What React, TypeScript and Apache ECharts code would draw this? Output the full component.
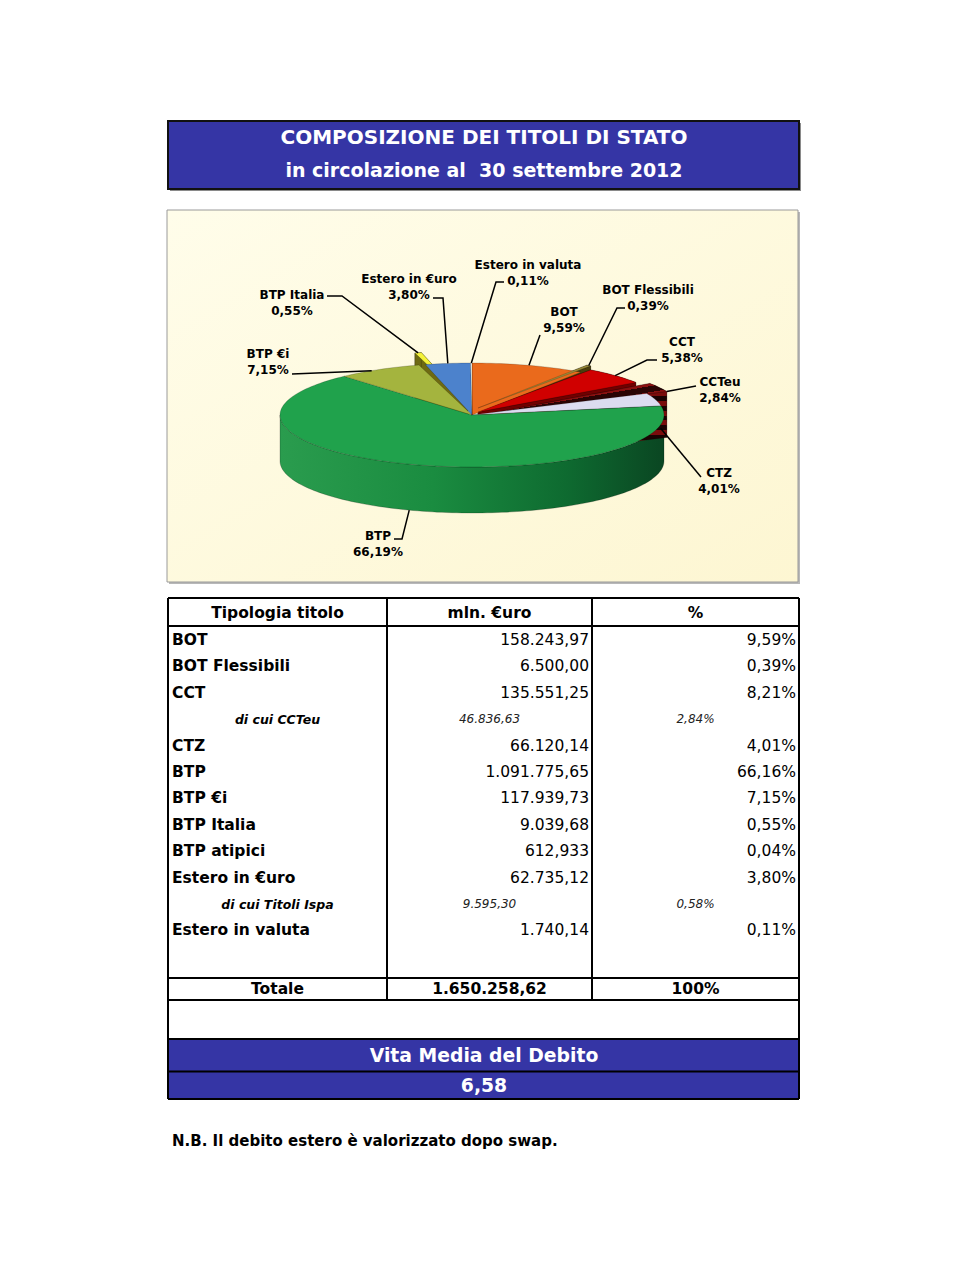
import React, { useEffect, useRef } from 'react';
import * as echarts from 'echarts';

// ---------- DATA ----------
const titleLines = ['COMPOSIZIONE DEI TITOLI DI STATO', 'in circolazione al  30 settembre 2012'];

const pieNames = ['BOT', 'BOT Flessibili', 'CCT', 'CCTeu', 'CTZ', 'BTP', 'BTP €i', 'BTP Italia', 'Estero in €uro', 'Estero in valuta'];
const pieValues = [9.59, 0.39, 5.38, 2.84, 4.01, 66.19, 7.15, 0.55, 3.8, 0.11];

const tableHeaders = ['Tipologia titolo', 'mln. €uro', '%'];
const tableLabels = ['BOT', 'BOT Flessibili', 'CCT', 'di cui CCTeu', 'CTZ', 'BTP', 'BTP €i', 'BTP Italia', 'BTP atipici', 'Estero in €uro', 'di cui Titoli Ispa', 'Estero in valuta'];
const tableAmounts = ['158.243,97', '6.500,00', '135.551,25', '46.836,63', '66.120,14', '1.091.775,65', '117.939,73', '9.039,68', '612,933', '62.735,12', '9.595,30', '1.740,14'];
const tableShares = ['9,59%', '0,39%', '8,21%', '2,84%', '4,01%', '66,16%', '7,15%', '0,55%', '0,04%', '3,80%', '0,58%', '0,11%'];
const tableSubRows = [false, false, false, true, false, false, false, false, false, false, true, false];
const totalRow = ['Totale', '1.650.258,62', '100%'];
const vitaMediaLabel = 'Vita Media del Debito';
const vitaMediaValue = '6,58';
const footnote = 'N.B. Il debito estero è valorizzato dopo swap.';

// ---------- STYLE / LAYOUT ----------
const FONT = '"DejaVu Sans", Verdana, sans-serif';
const BLUE = '#3535a5';
const topColors = ['#ea6a1c', '#9a8b3a', '#d00000', '', '#dcdcf0', '#20a24c', '#a4b43e', '#f4f23a', '#4c82cc', '#fffff4'];
const wallColors = ['#a4440e', '#4a3e0c', '#700000', '', '#9a9ab8', '', '#5f6e18', '#6e6a12', '#2c4f86', '#c8c8b0'];
// pixel offset of exploded slices [dx, dy]
const explodeOffset = [[0, 0], [6, -7], [6, -3], [20, -2], [0, 0], [0, 0], [0, 0], [-4, -12], [0, 0], [0, 0]];
// [labelX, labelY, leaderStartX, leaderStartY, elbowX, elbowY, anchorFraction, anchorDepthFraction]
const labelLayout = [
  [564, 320, 540, 335, 540, 335, 0.5, 0],
  [648, 298, 625, 308, 617, 308, 0.5, 0],
  [682, 350, 657, 360, 647, 360, 0.5, 0],
  [720, 390, 696, 386, 696, 386, 1, 0],
  [719, 481, 701, 477, 701, 477, 0.95, 0.5],
  [378, 544, 394, 539, 402, 539, 0.5, 1],
  [268, 362, 292, 374, 292, 374, 0.4, 0],
  [292, 303, 327, 296, 342, 296, 0.5, 0],
  [409, 287, 433, 298, 443, 298, 0.5, 0],
  [528, 273, 504, 282, 496, 282, 0.5, 0],
];
const CX = 472, CY = 415, RX = 192, RY = 52, DEPTH = 46;

const pieTotal = pieValues.reduce((a, b) => a + b, 0);
const pieStart: number[] = [];
pieValues.reduce((acc, v) => { pieStart.push(acc); return acc + v; }, 0);

const TAU = Math.PI * 2;

function stripes(c1: string, c2: string, count: number, horizontal: boolean) {
  const stops: any[] = [];
  for (let k = 0; k < count; k++) {
    const c = k % 2 === 0 ? c1 : c2;
    stops.push({ offset: k / count, color: c });
    stops.push({ offset: (k + 1) / count, color: c });
  }
  return horizontal
    ? new echarts.graphic.LinearGradient(0, 0, 0, 1, stops)
    : new echarts.graphic.LinearGradient(0, 0, 1, 1, stops);
}

function renderSlice(params: any, api: any) {
  const i = params.dataIndex;
  const v = api.value(0) as number;
  const s = api.value(1) as number;
  const a0 = (s / pieTotal) * TAU;
  const a1 = ((s + v) / pieTotal) * TAU;
  const [ox, oy] = explodeOffset[i];
  const exploded = ox !== 0 || oy !== 0;
  const cx = CX + ox, cy = CY + oy;
  const pt = (a: number, d: number) => [cx + RX * Math.sin(a), cy - RY * Math.cos(a) + d];
  const arc = (b0: number, b1: number, d: number) => {
    const n = Math.max(2, Math.ceil((b1 - b0) / (Math.PI / 120)));
    const out: number[][] = [];
    for (let k = 0; k <= n; k++) out.push(pt(b0 + ((b1 - b0) * k) / n, d));
    return out;
  };
  const top = arc(a0, a1, 0);
  // outer wall: full for exploded slices, front half only otherwise
  let w0 = a0, w1 = a1;
  if (!exploded) { w0 = Math.max(a0, Math.PI / 2); w1 = Math.min(a1, Math.PI * 1.5); }
  const wallFill = i === 5
    ? new echarts.graphic.LinearGradient(0, 0, 1, 0, [
        { offset: 0, color: '#2a9c4e' },
        { offset: 0.4, color: '#1a8c40' },
        { offset: 0.75, color: '#0e6a30' },
        { offset: 1, color: '#0a4622' },
      ])
    : i === 3 ? stripes('#7a0c0c', '#1a0202', 14, true) : wallColors[i];
  const topFill = i === 3 ? stripes('#8a1010', '#2a0404', 10, false) : topColors[i];
  const children: any[] = [];
  if (w1 > w0) {
    const wt = arc(w0, w1, 0);
    const wb = arc(w0, w1, DEPTH);
    children.push({
      type: 'polygon', z2: 1,
      shape: { points: wt.concat(wb.reverse()) },
      style: { fill: wallFill, stroke: 'rgba(0,0,0,0.35)', lineWidth: 0.6 },
    });
  }
  if (exploded) {
    [a0, a1].forEach((a) => {
      const p = pt(a, 0), q = pt(a, DEPTH);
      children.push({
        type: 'polygon', z2: 2,
        shape: { points: [[cx, cy], p, q, [cx, cy + DEPTH]] },
        style: { fill: wallFill, stroke: 'rgba(0,0,0,0.35)', lineWidth: 0.6 },
      });
    });
  }
  children.push({
    type: 'polygon', z2: 3,
    shape: { points: [[cx, cy]].concat(top) },
    style: { fill: topFill, stroke: 'rgba(0,0,0,0.3)', lineWidth: 0.6 },
  });
  const L = labelLayout[i];
  const anchor = pt(a0 + (a1 - a0) * L[6], DEPTH * L[7]);
  const pct = v.toFixed(2).replace('.', ',') + '%';
  children.push({
    type: 'polyline', z2: 5,
    shape: { points: [[L[2], L[3]], [L[4], L[5]], anchor] },
    style: { stroke: '#000', lineWidth: 1.5, fill: null },
  });
  children.push({
    type: 'text', z2: 6, x: L[0], y: L[1],
    style: {
      text: pieNames[i] + '\n' + pct,
      font: `bold 12px ${FONT}`,
      fill: '#000',
      align: 'center', textAlign: 'center',
      verticalAlign: 'middle', textVerticalAlign: 'middle',
      lineHeight: 16.5,
    },
  });
  return { type: 'group', children };
}

function txt(x: number, y: number, s: string, font: string, fill = '#000', align = 'left') {
  return {
    type: 'text', x, y, z: 5,
    style: { text: s, font, fill, align, textAlign: align, verticalAlign: 'middle', textVerticalAlign: 'middle' },
  };
}
function ln(x1: number, y1: number, x2: number, y2: number, w = 2) {
  return { type: 'line', z: 4, shape: { x1, y1, x2, y2 }, style: { stroke: '#000', lineWidth: w } };
}

function buildGraphics() {
  const g: any[] = [];
  // title
  g.push({ type: 'rect', z: 1, shape: { x: 170, y: 123, width: 631, height: 68 }, style: { fill: '#8a8a8a' } });
  g.push({ type: 'rect', z: 2, shape: { x: 168, y: 121, width: 631, height: 68 }, style: { fill: BLUE, stroke: '#111', lineWidth: 2 } });
  g.push(txt(484, 137, titleLines[0], `bold 20px ${FONT}`, '#fff', 'center'));
  g.push(txt(484, 170, titleLines[1], `bold 19px ${FONT}`, '#fff', 'center'));
  // chart frame
  g.push({ type: 'rect', z: 0, shape: { x: 169, y: 212, width: 631, height: 372 }, style: { fill: '#b8b8b8' } });
  g.push({
    type: 'rect', z: 0, shape: { x: 167, y: 210, width: 631, height: 372 },
    style: {
      fill: new echarts.graphic.LinearGradient(0, 0, 1, 1, [
        { offset: 0, color: '#fffdea' },
        { offset: 1, color: '#fdf6d2' },
      ]),
      stroke: '#9a9a9a', lineWidth: 1,
    },
  });
  // table
  const L = 168, R = 799, C1 = 387, C2 = 592, T = 598, B = 1099;
  g.push({ type: 'rect', z: 3, shape: { x: L, y: T, width: R - L, height: B - T }, style: { fill: '#fff' } });
  g.push({ type: 'rect', z: 3, shape: { x: L, y: 1039, width: R - L, height: 32 }, style: { fill: BLUE } });
  g.push({ type: 'rect', z: 3, shape: { x: L, y: 1072, width: R - L, height: 27 }, style: { fill: BLUE } });
  g.push(ln(L, T, R, T));
  g.push(ln(L, B, R, B));
  g.push(ln(L, T, L, B));
  g.push(ln(R, T, R, B));
  g.push(ln(L, 626, R, 626));
  g.push(ln(L, 978, R, 978));
  g.push(ln(L, 1000, R, 1000));
  g.push(ln(L, 1039, R, 1039));
  g.push(ln(L, 1071.5, R, 1071.5));
  g.push(ln(C1, T, C1, 1000));
  g.push(ln(C2, T, C2, 1000));
  const hFont = `bold 15.5px ${FONT}`;
  g.push(txt((L + C1) / 2, 613, tableHeaders[0], hFont, '#000', 'center'));
  g.push(txt((C1 + C2) / 2, 613, tableHeaders[1], hFont, '#000', 'center'));
  g.push(txt((C2 + R) / 2, 613, tableHeaders[2], hFont, '#000', 'center'));
  tableLabels.forEach((lab, k) => {
    const y = 640 + k * 26.4;
    if (tableSubRows[k]) {
      g.push(txt((L + C1) / 2, y, lab, `italic bold 12.5px ${FONT}`, '#000', 'center'));
      g.push(txt((C1 + C2) / 2, y, tableAmounts[k], `italic 12px ${FONT}`, '#222', 'center'));
      g.push(txt((C2 + R) / 2, y, tableShares[k], `italic 12px ${FONT}`, '#222', 'center'));
    } else {
      g.push(txt(172, y, lab, `bold 15.5px ${FONT}`, '#000', 'left'));
      g.push(txt(C2 - 3, y, tableAmounts[k], `15.5px ${FONT}`, '#000', 'right'));
      g.push(txt(R - 3, y, tableShares[k], `15.5px ${FONT}`, '#000', 'right'));
    }
  });
  g.push(txt((L + C1) / 2, 989, totalRow[0], hFont, '#000', 'center'));
  g.push(txt((C1 + C2) / 2, 989, totalRow[1], hFont, '#000', 'center'));
  g.push(txt((C2 + R) / 2, 989, totalRow[2], hFont, '#000', 'center'));
  g.push(txt(484, 1055, vitaMediaLabel, `bold 18.8px ${FONT}`, '#fff', 'center'));
  g.push(txt(484, 1085, vitaMediaValue, `bold 18.8px ${FONT}`, '#fff', 'center'));
  g.push(txt(172, 1141, footnote, `bold 15px ${FONT}`, '#000', 'left'));
  return g;
}

export default function App() {
  const ref = useRef<HTMLDivElement>(null);
  useEffect(() => {
    document.body.style.margin = '0';
    const chart = echarts.init(ref.current as HTMLDivElement, undefined, { renderer: 'svg' });
    chart.setOption({
      animation: false,
      backgroundColor: '#ffffff',
      graphic: { elements: buildGraphics() },
      series: [
        {
          type: 'custom',
          coordinateSystem: 'none',
          z: 10,
          renderItem: renderSlice,
          data: pieValues.map((v, i) => ({ name: pieNames[i], value: [v, pieStart[i]] })),
        },
      ],
    });
    return () => chart.dispose();
  }, []);
  return <div ref={ref} style={{ width: 960, height: 1280 }} />;
}
